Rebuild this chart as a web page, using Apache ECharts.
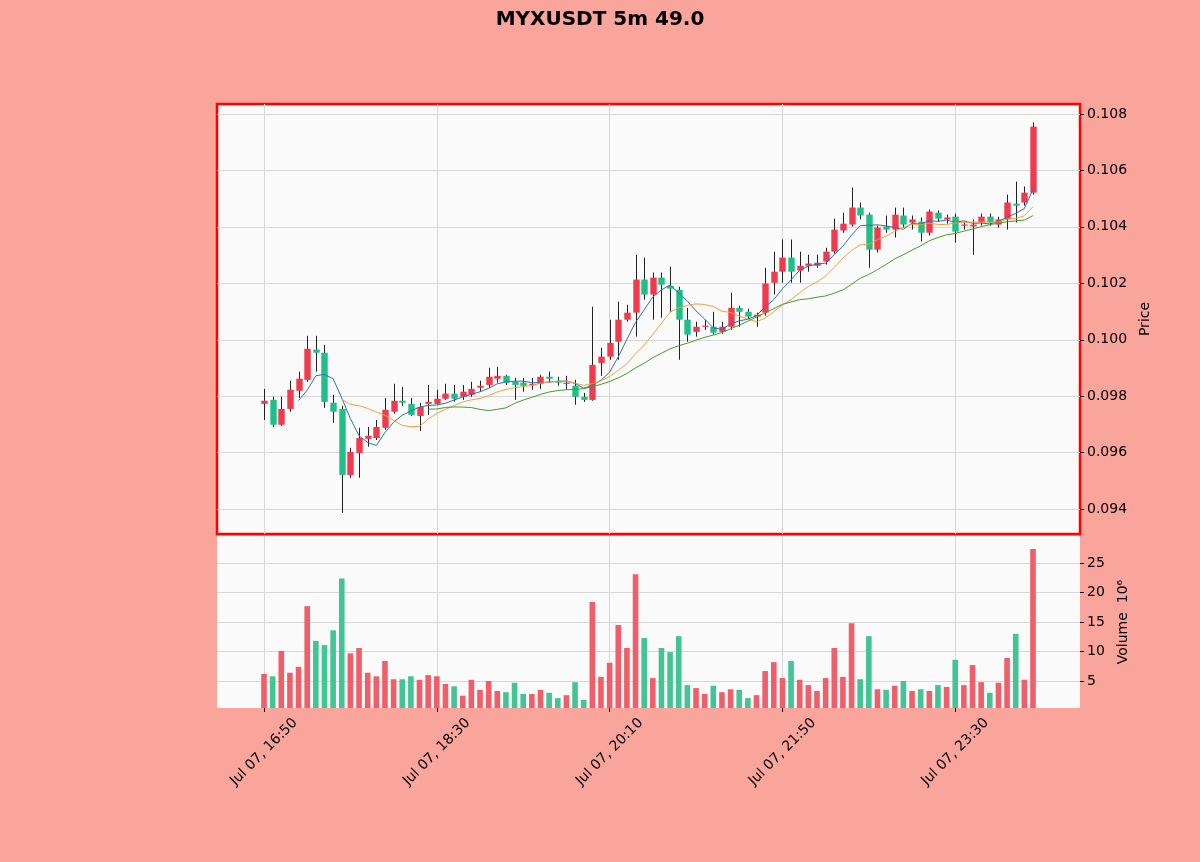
<!DOCTYPE html>
<html><head><meta charset="utf-8">
<script src="https://cdn.jsdelivr.net/npm/echarts@6/dist/echarts.min.js"></script>
<style>html,body{margin:0;padding:0;background:#f9a59b;}#c{width:1200px;height:862px;}</style>
</head><body><div id="c"></div>
<script>
const chartTitle = 'MYXUSDT 5m 49.0';
const tickIdx = [0, 20, 40, 60, 80];
const tickLabels = ['Jul 07, 16:50', 'Jul 07, 18:30', 'Jul 07, 20:10', 'Jul 07, 21:50', 'Jul 07, 23:30'];
const priceTicks = [0.094, 0.096, 0.098, 0.100, 0.102, 0.104, 0.106, 0.108];
const volTicks = [5, 10, 15, 20, 25];
const maPeriods = [5, 10, 20];

const opens = [0.09773,0.09787,0.09699,0.09755,0.09819,0.09858,0.09965,0.09954,0.09777,0.09755,
0.09521,0.09599,0.09649,0.09652,0.09688,0.09745,0.09784,0.09773,0.09730,0.09773,
0.09773,0.09791,0.09809,0.09798,0.09805,0.09830,0.09840,0.09862,0.09872,0.09851,
0.09848,0.09840,0.09844,0.09869,0.09855,0.09844,0.09837,0.09798,0.09787,0.09918,
0.09940,0.09993,0.10071,0.10096,0.10213,0.10160,0.10220,0.10191,0.10177,0.10071,
0.10028,0.10046,0.10046,0.10028,0.10046,0.10113,0.10099,0.10082,0.10096,0.10202,
0.10241,0.10291,0.10245,0.10262,0.10262,0.10277,0.10312,0.10387,0.10408,0.10468,
0.10443,0.10319,0.10401,0.10390,0.10440,0.10415,0.10418,0.10379,0.10450,0.10426,
0.10436,0.10404,0.10401,0.10415,0.10436,0.10408,0.10426,0.10482,0.10486,0.10521];
const closes = [0.09784,0.09699,0.09755,0.09823,0.09862,0.09968,0.09954,0.09780,0.09745,0.09521,
0.09603,0.09652,0.09660,0.09691,0.09752,0.09784,0.09777,0.09734,0.09762,0.09780,
0.09791,0.09809,0.09791,0.09816,0.09826,0.09837,0.09869,0.09872,0.09848,0.09840,
0.09837,0.09844,0.09869,0.09862,0.09848,0.09848,0.09798,0.09787,0.09911,0.09940,
0.09989,0.10071,0.10096,0.10213,0.10160,0.10220,0.10195,0.10181,0.10071,0.10018,
0.10046,0.10050,0.10025,0.10046,0.10113,0.10099,0.10082,0.10089,0.10199,0.10241,
0.10291,0.10241,0.10262,0.10270,0.10273,0.10312,0.10390,0.10411,0.10468,0.10440,
0.10319,0.10397,0.10390,0.10443,0.10408,0.10426,0.10379,0.10454,0.10429,0.10433,
0.10383,0.10408,0.10408,0.10436,0.10415,0.10426,0.10486,0.10475,0.10521,0.10755];
const highs = [0.09826,0.09798,0.09798,0.09855,0.09887,0.10014,0.10014,0.09982,0.09805,0.09766,
0.09617,0.09688,0.09691,0.09716,0.09794,0.09844,0.09833,0.09794,0.09777,0.09840,
0.09823,0.09844,0.09840,0.09840,0.09851,0.09855,0.09901,0.09904,0.09876,0.09865,
0.09865,0.09865,0.09876,0.09887,0.09869,0.09872,0.09858,0.09812,0.10117,0.09972,
0.10071,0.10135,0.10124,0.10301,0.10291,0.10238,0.10238,0.10259,0.10188,0.10113,
0.10064,0.10071,0.10099,0.10064,0.10167,0.10121,0.10110,0.10096,0.10255,0.10312,
0.10355,0.10355,0.10312,0.10301,0.10301,0.10326,0.10429,0.10450,0.10539,0.10486,
0.10450,0.10404,0.10440,0.10468,0.10468,0.10440,0.10433,0.10461,0.10458,0.10443,
0.10447,0.10418,0.10426,0.10447,0.10447,0.10436,0.10514,0.10560,0.10543,0.10770];
const lows = [0.09716,0.09691,0.09695,0.09745,0.09794,0.09851,0.09887,0.09759,0.09706,0.09387,
0.09511,0.09511,0.09621,0.09645,0.09681,0.09738,0.09766,0.09730,0.09677,0.09734,
0.09770,0.09787,0.09780,0.09787,0.09798,0.09816,0.09830,0.09848,0.09840,0.09787,
0.09816,0.09823,0.09826,0.09848,0.09837,0.09823,0.09770,0.09780,0.09784,0.09872,
0.09929,0.09929,0.10064,0.10011,0.10142,0.10071,0.10078,0.10099,0.09929,0.09993,
0.10011,0.10035,0.10018,0.10021,0.10035,0.10046,0.10071,0.10046,0.10085,0.10160,
0.10202,0.10202,0.10202,0.10241,0.10255,0.10266,0.10305,0.10379,0.10401,0.10426,
0.10255,0.10309,0.10379,0.10362,0.10397,0.10390,0.10348,0.10369,0.10418,0.10411,
0.10344,0.10390,0.10301,0.10404,0.10404,0.10397,0.10390,0.10415,0.10475,0.10514];
const volumes = [6.2,5.8,10.1,6.4,7.4,17.7,11.8,11.1,13.6,22.4,
9.7,10.6,6.4,5.8,8.4,5.3,5.3,5.8,5.2,6.0,
5.8,4.5,4.1,2.5,5.2,3.5,5.0,3.3,3.1,4.7,
2.8,2.8,3.5,3.0,2.1,2.6,4.8,1.8,18.4,5.7,
8.1,14.5,10.6,23.1,12.3,5.5,10.6,9.9,12.6,4.3,
3.8,2.8,4.2,3.1,3.6,3.5,2.1,2.6,6.7,8.2,
5.5,8.4,5.2,4.3,3.3,5.5,10.6,5.7,14.8,5.3,
12.6,3.6,3.5,4.2,5.0,3.3,3.6,3.3,4.3,4.0,
8.6,4.3,7.7,4.8,3.0,4.7,8.9,13.0,5.2,27.4];

const FONT = 'DejaVu Sans';
const UP = '#ef3b4d', DOWN = '#1fbf87';
const UP_VOL = '#f05f69', DOWN_VOL = '#43c495';
const MA_COLORS = ['#2f6fae', '#f0a040', '#4a9a30'];
const GRID_COLOR = '#d8d8d8';
const X_MIN = -5.44, X_MAX = 94.44;

const candleData = opens.map((o, i) => [i, o, closes[i], lows[i], highs[i]]);
function movingAvg(p) {
  const out = [];
  for (let i = p - 1; i < closes.length; i++) {
    let s = 0;
    for (let k = i - p + 1; k <= i; k++) s += closes[k];
    out.push([i, s / p]);
  }
  return out;
}

const chart = echarts.init(document.getElementById('c'), null, {renderer: 'canvas'});
const xCommon = {type: 'value', min: X_MIN, max: X_MAX, axisLine: {show: false, onZero: false},
  splitLine: {show: true, lineStyle: {color: GRID_COLOR, width: 1}}};
chart.setOption({
  animation: false,
  backgroundColor: '#f9a59b',
  textStyle: {fontFamily: FONT},
  title: {text: chartTitle, left: 'center', top: 5,
    textStyle: {fontFamily: FONT, fontSize: 20, fontWeight: 'bold', color: '#000'}},
  grid: [
    {left: 217, top: 104, width: 863, height: 430, show: true, backgroundColor: '#fafafa', borderColor: '#ff0000', borderWidth: 2.5},
    {left: 217, top: 536, width: 863, height: 172, show: true, backgroundColor: '#fafafa', borderWidth: 0}
  ],
  xAxis: [
    Object.assign({}, xCommon, {gridIndex: 0,
      axisTick: {show: false, customValues: tickIdx},
      axisLabel: {show: false, customValues: tickIdx}}),
    Object.assign({}, xCommon, {gridIndex: 1,
      axisTick: {show: true, customValues: tickIdx, length: 4, lineStyle: {color: '#000'}},
      axisLabel: {customValues: tickIdx, rotate: 45, align: 'center', verticalAlign: 'middle', margin: 44,
        fontFamily: FONT, fontSize: 14, color: '#000',
        formatter: v => tickLabels[tickIdx.indexOf(Math.round(v))] || ''}})
  ],
  yAxis: [
    {gridIndex: 0, type: 'value', position: 'right', min: 0.09312, max: 0.10835,
      axisLine: {show: false, onZero: false},
      axisTick: {show: true, customValues: priceTicks, length: 4, lineStyle: {color: '#000'}},
      axisLabel: {customValues: priceTicks, formatter: v => v.toFixed(3), fontFamily: FONT, fontSize: 14, color: '#000', margin: 7},
      splitLine: {show: true, lineStyle: {color: GRID_COLOR, width: 1}},
      name: 'Price', nameLocation: 'middle', nameRotate: 90, nameGap: 56,
      nameTextStyle: {fontFamily: FONT, fontSize: 14, color: '#000'}},
    {gridIndex: 1, type: 'value', position: 'right', min: 0.42, max: 29.6,
      axisLine: {show: false, onZero: false},
      axisTick: {show: true, customValues: volTicks, length: 4, lineStyle: {color: '#000'}},
      axisLabel: {customValues: volTicks, formatter: v => String(Math.round(v)), fontFamily: FONT, fontSize: 14, color: '#000', margin: 7},
      splitLine: {show: true, lineStyle: {color: GRID_COLOR, width: 1}},
      name: 'Volume  10⁶', nameLocation: 'middle', nameRotate: 90, nameGap: 36,
      nameTextStyle: {fontFamily: FONT, fontSize: 14, color: '#000'}}
  ],
  series: [
    {type: 'custom', xAxisIndex: 0, yAxisIndex: 0, data: candleData, encode: {x: 0, y: [1, 2, 3, 4]}, clip: true, z: 3,
      renderItem: function (params, api) {
        const x = api.value(0), o = api.value(1), c = api.value(2), l = api.value(3), h = api.value(4);
        const pO = api.coord([x, o]), pC = api.coord([x, c]), pL = api.coord([x, l]), pH = api.coord([x, h]);
        const w = 6.4;
        const top = Math.min(pO[1], pC[1]), bot = Math.max(pO[1], pC[1]);
        const cx = Math.round(pO[0]) + 0.5;
        return {type: 'group', children: [
          {type: 'line', shape: {x1: cx, y1: pH[1], x2: cx, y2: pL[1]}, style: {stroke: '#222', lineWidth: 1}},
          {type: 'rect', shape: {x: cx - w / 2, y: top, width: w, height: Math.max(bot - top, 1.2)},
            style: {fill: c >= o ? UP : DOWN}}
        ]};
      }},
    ...maPeriods.map((p, k) => ({type: 'line', xAxisIndex: 0, yAxisIndex: 0, data: movingAvg(p), showSymbol: false,
      z: 4, lineStyle: {color: MA_COLORS[k], width: 1}, itemStyle: {color: MA_COLORS[k]}})),
    {type: 'bar', xAxisIndex: 1, yAxisIndex: 1, barWidth: 5.6, z: 3,
      data: volumes.map((v, i) => ({value: [i, v], itemStyle: {color: closes[i] >= opens[i] ? UP_VOL : DOWN_VOL}}))}
  ]
});
</script></body></html>
